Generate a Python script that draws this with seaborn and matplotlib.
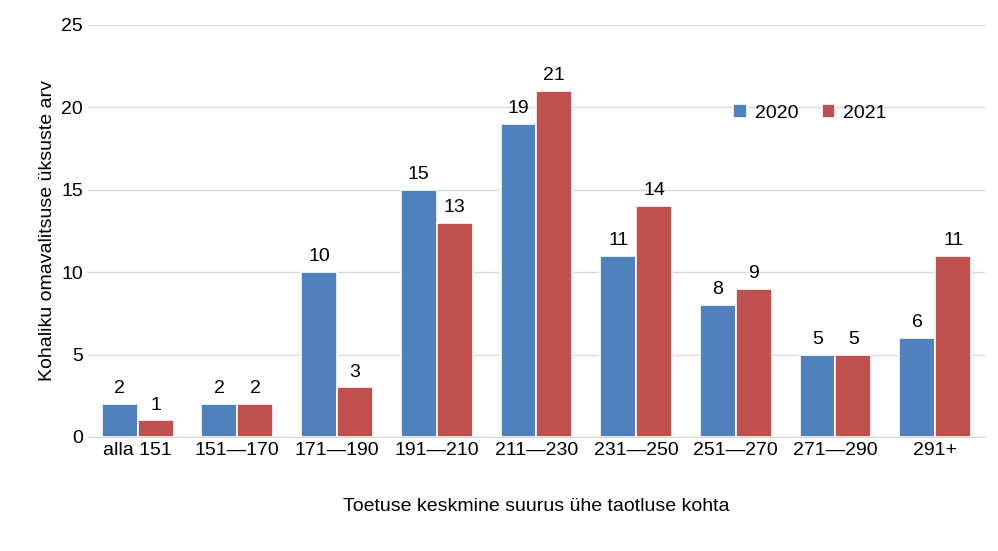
import matplotlib.pyplot as plt
import pandas as pd
import seaborn as sns

categories = ["alla 151", "151—170", "171—190", "191—210", "211—230",
              "231—250", "251—270", "271—290", "291+"]
values_2020 = [2, 2, 10, 15, 19, 11, 8, 5, 6]
values_2021 = [1, 2, 3, 13, 21, 14, 9, 5, 11]

frame = pd.DataFrame({
    "group": categories * 2,
    "year": ["2020"] * len(categories) + ["2021"] * len(categories),
    "count": values_2020 + values_2021,
})

sns.set_style("white")
plt.rcParams["font.family"] = ["Liberation Sans", "DejaVu Sans"]
plt.rcParams["text.color"] = "black"

fig = plt.figure(figsize=(9.98, 5.51), dpi=100)
ax = fig.add_axes([0.088, 0.207, 0.899, 0.748])
sns.barplot(data=frame, x="group", y="count", hue="year",
            palette=["#4F81BD", "#C0504D"], saturation=1, width=0.72,
            edgecolor="white", linewidth=1.2, ax=ax)

for container in ax.containers:
    ax.bar_label(container, padding=5, fontsize=14, color="black")

ax.set_ylim(0, 25)
ax.set_yticks(range(0, 26, 5))
ax.yaxis.grid(True, color="#d9d9d9", linewidth=1)
ax.set_axisbelow(True)
for side in ["top", "right", "left"]:
    ax.spines[side].set_visible(False)
ax.spines["bottom"].set_color("#d9d9d9")
ax.tick_params(axis="both", labelsize=14, length=0, labelcolor="black")
ax.set_xlabel("Toetuse keskmine suurus ühe taotluse kohta", fontsize=14,
              labelpad=28, color="black")
ax.set_ylabel("Kohaliku omavalitsuse üksuste arv", fontsize=14, color="black")
ax.legend(title=None, frameon=False, fontsize=14, ncol=2,
          loc="upper left", bbox_to_anchor=(0.7, 0.85),
          handlelength=0.7, handleheight=0.7, columnspacing=1.2, handletextpad=0.4)

fig.savefig("out.png", dpi=100)
